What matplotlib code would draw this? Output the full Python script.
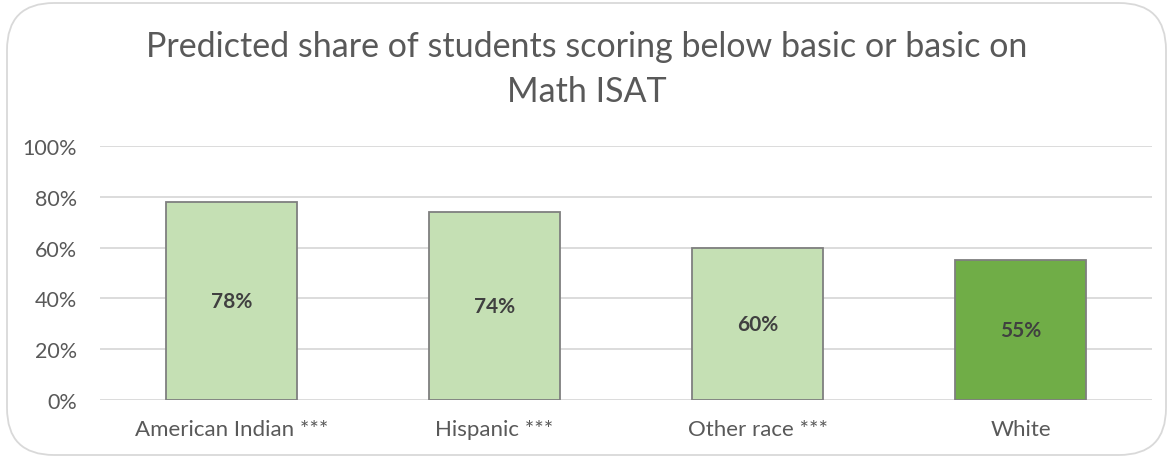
import matplotlib.pyplot as plt
from matplotlib.patches import FancyBboxPatch

categories = ["American Indian ***", "Hispanic ***", "Other race ***", "White"]
shares = [78, 74, 60, 55]
colors = ["#C5E0B4", "#C5E0B4", "#C5E0B4", "#70AD47"]
yticks = [0, 20, 40, 60, 80, 100]

plt.rcParams["font.family"] = ["Lato", "DejaVu Sans"]


def main():
    fig = plt.figure(figsize=(11.73, 4.6), dpi=100)
    ax = fig.add_axes([100 / 1173, 59 / 460, 1052 / 1173, 254 / 460])

    x = list(range(len(categories)))
    bars = ax.bar(x, shares, width=0.5, color=colors, edgecolor="#7F7F7F",
                  linewidth=1.3, zorder=3)
    ax.bar_label(bars, labels=[f"{v}%" for v in shares], label_type="center",
                 fontsize=15, fontweight="bold", color="#404040")

    ax.set_xlim(-0.5, len(categories) - 0.5)
    ax.set_ylim(0, 100)
    ax.set_yticks(yticks)
    ax.set_yticklabels([f"{t}%" for t in yticks])
    ax.set_xticks(x)
    ax.set_xticklabels(categories)
    ax.tick_params(axis="both", length=0, labelsize=16, colors="#595959")
    ax.tick_params(axis="y", labelsize=15.5, pad=16.5)
    ax.tick_params(axis="x", pad=14)
    ax.grid(axis="y", color="#D9D9D9", linewidth=1.3, zorder=0)
    for side in ax.spines.values():
        side.set_visible(False)

    fig.text(0.5, 0.848, "Predicted share of students scoring below basic or basic on\nMath ISAT",
             ha="center", va="center", fontsize=24.5,
             color="#595959", linespacing=1.5)

    # rounded chart-area border
    frame = FancyBboxPatch((7 / 1173, 4 / 460), 1159 / 1173, 452 / 460,
                           boxstyle="round,pad=0,rounding_size=0.04",
                           transform=fig.transFigure, facecolor="none",
                           edgecolor="#D9D9D9", linewidth=1.3,
                           mutation_aspect=1173 / 460)
    fig.patches.append(frame)

    fig.savefig("out.png", dpi=100)


if __name__ == "__main__":
    main()
